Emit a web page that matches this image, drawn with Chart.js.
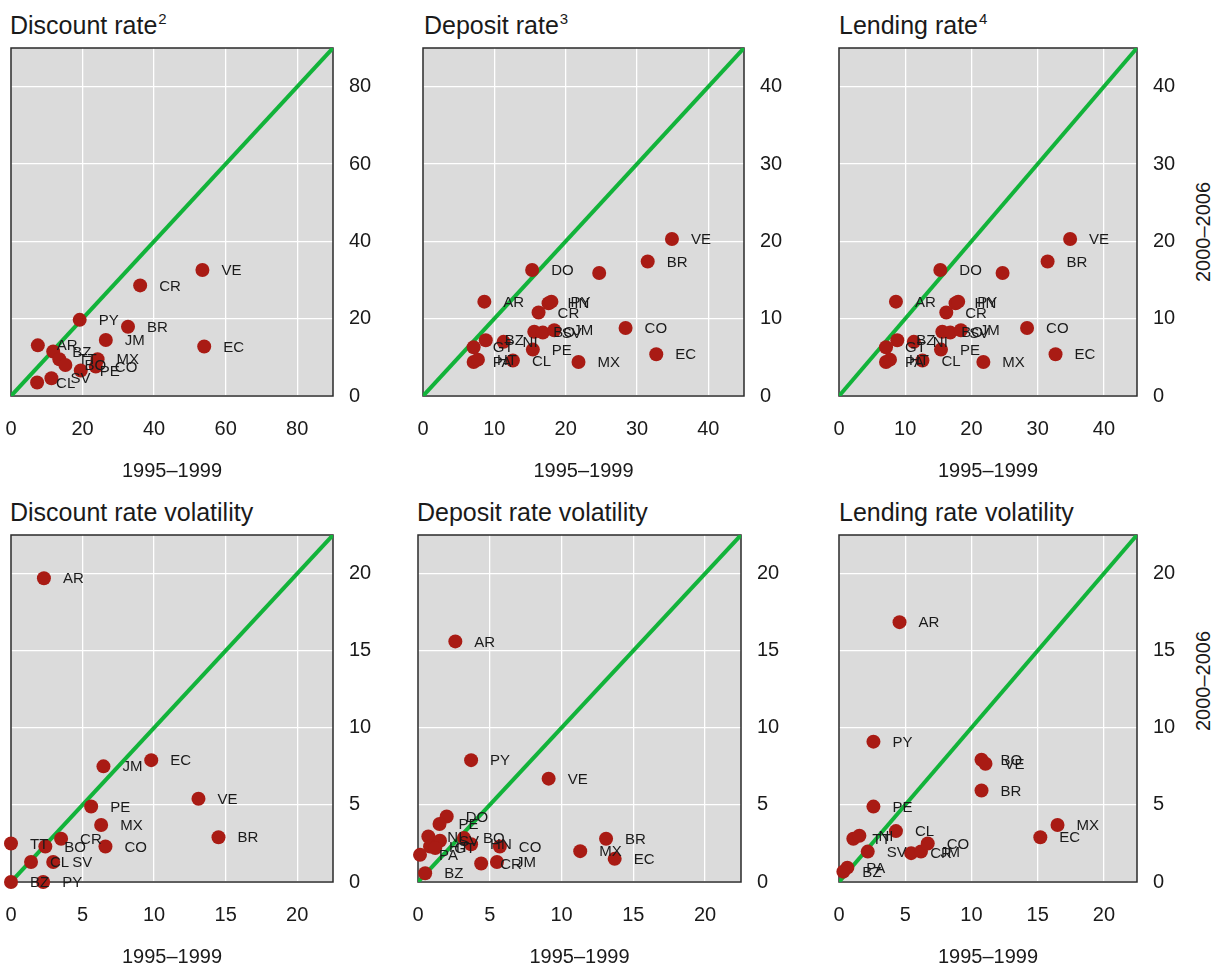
<!DOCTYPE html>
<html>
<head>
<meta charset="utf-8">
<script src="https://cdn.jsdelivr.net/npm/chart.js@4.4.1/dist/chart.umd.min.js"></script>
<style>
    body { margin: 0; background: #ffffff; width: 1215px; height: 970px; position: relative; overflow: hidden;
           font-family: "Liberation Sans", Arial, sans-serif; color: #1a1a1a; }
    canvas { position: absolute; }
    .ttl { position: absolute; font-size: 25px; line-height: 24px; white-space: nowrap; }
    .ttl span { font-size: 15px; position: relative; top: -10px; margin-left: 1px; }
    .ylab { position: absolute; font-size: 20px; line-height: 24px; white-space: nowrap;
            transform: translate(-50%, -50%) rotate(-90deg); }
</style>
</head>
<body>
<div class="ttl" style="left:10px;top:13px">Discount rate<span>2</span></div>
<div class="ttl" style="left:424px;top:13px">Deposit rate<span>3</span></div>
<div class="ttl" style="left:839px;top:13px">Lending rate<span>4</span></div>
<div class="ttl" style="left:10px;top:500px">Discount rate volatility</div>
<div class="ttl" style="left:417px;top:500px">Deposit rate volatility</div>
<div class="ttl" style="left:839px;top:500px">Lending rate volatility</div>
<div class="ylab" style="left:1203px;top:232px">2000–2006</div>
<div class="ylab" style="left:1203px;top:681px">2000–2006</div>

<canvas id="discountChart"></canvas>
<canvas id="depositChart"></canvas>
<canvas id="lendingChart"></canvas>
<canvas id="discountVolChart"></canvas>
<canvas id="depositVolChart"></canvas>
<canvas id="lendingVolChart"></canvas>

<script>
// levels: x = 1995-1999, y = 2000-2006
const discountNames = ['VE', 'CR', 'PY', 'BR', 'JM', 'EC', 'AR', 'BZ', 'TT', 'BO', 'MX', 'CO', 'PE', 'SV', 'CL'];
const discount9599 = [53.5, 36.1, 19.2, 32.7, 26.5, 54.0, 7.5, 11.8, 13.5, 15.2, 24.2, 23.7, 19.5, 11.3, 7.3];
const discount0006 = [32.6, 28.6, 19.7, 17.9, 14.5, 12.8, 13.1, 11.5, 9.5, 8.0, 9.5, 7.6, 6.6, 4.6, 3.5];

const depositNames = ['VE', 'BR', 'DO', '', 'AR', 'HN', 'PY', 'CR', 'CO', 'BO', 'SV', 'JM', 'BZ', 'NI', 'GT', 'PA', 'HT', 'PE', 'CL', 'MX', 'EC'];
const deposit9599 = [34.9, 31.5, 15.3, 24.7, 8.6, 17.6, 18.0, 16.2, 28.4, 15.6, 16.8, 18.4, 8.8, 11.3, 7.1, 7.1, 7.7, 15.4, 12.6, 21.8, 32.7];
const deposit0006 = [20.3, 17.4, 16.3, 15.9, 12.2, 12.0, 12.2, 10.8, 8.8, 8.3, 8.2, 8.5, 7.2, 7.0, 6.3, 4.4, 4.7, 6.0, 4.6, 4.4, 5.4];

const lendingNames = ['VE', 'BR', 'DO', '', 'AR', 'HN', 'PY', 'CR', 'CO', 'BO', 'SV', 'JM', 'BZ', 'NI', 'GT', 'PA', 'HT', 'PE', 'CL', 'MX', 'EC'];
const lending9599 = [34.9, 31.5, 15.3, 24.7, 8.6, 17.6, 18.0, 16.2, 28.4, 15.6, 16.8, 18.4, 8.8, 11.3, 7.1, 7.1, 7.7, 15.4, 12.6, 21.8, 32.7];
const lending0006 = [20.3, 17.4, 16.3, 15.9, 12.2, 12.0, 12.2, 10.8, 8.8, 8.3, 8.2, 8.5, 7.2, 7.0, 6.3, 4.4, 4.7, 6.0, 4.6, 4.4, 5.4];

// volatility
const discountVolNames = ['AR', 'JM', 'EC', 'VE', 'PE', 'MX', 'BR', 'TT', 'CR', 'BO', 'CO', 'CL', 'SV', 'BZ', 'PY'];
const discountVol9599 = [2.3, 6.46, 9.8, 13.1, 5.6, 6.3, 14.5, 0, 3.5, 2.4, 6.6, 1.4, 2.95, 0, 2.25];
const discountVol0006 = [19.7, 7.5, 7.9, 5.4, 4.9, 3.7, 2.9, 2.5, 2.8, 2.3, 2.3, 1.3, 1.3, 0, 0];

const depositVolNames = ['AR', 'PY', 'VE', 'DO', 'PE', 'NI', 'SV', 'HT', 'GT', 'BO', 'HN', 'CO', 'PA', 'BZ', 'CR', 'JM', 'BR', 'MX', 'EC'];
const depositVol9599 = [2.6, 3.7, 9.1, 2.0, 1.5, 0.72, 1.53, 0.84, 1.2, 3.2, 3.7, 5.7, 0.14, 0.5, 4.4, 5.5, 13.1, 11.3, 13.7];
const depositVol0006 = [15.6, 7.9, 6.7, 4.25, 3.76, 2.95, 2.67, 2.3, 2.2, 2.85, 2.45, 2.3, 1.76, 0.57, 1.2, 1.3, 2.8, 2.0, 1.5];

const lendingVolNames = ['AR', 'PY', 'BO', 'VE', 'BR', 'PE', 'MX', 'EC', 'CL', 'TT', 'NI', 'SV', 'CR', 'JM', 'CO', 'PA', 'BZ'];
const lendingVol9599 = [4.57, 2.6, 10.76, 11.06, 10.76, 2.6, 16.5, 15.2, 4.3, 1.08, 1.54, 2.17, 5.45, 6.19, 6.7, 0.63, 0.33];
const lendingVol0006 = [16.85, 9.1, 7.93, 7.67, 5.93, 4.89, 3.7, 2.9, 3.3, 2.8, 3.0, 1.97, 1.87, 1.98, 2.5, 0.93, 0.67];

Chart.defaults.font.family = '"Liberation Sans", Arial, sans-serif';
Chart.defaults.color = '#1a1a1a';

const panelFrame = {
    id: 'panelFrame',
    beforeDraw(chart) {
        const { ctx, chartArea: a } = chart;
        ctx.save();
        ctx.fillStyle = '#dbdbdb';
        ctx.fillRect(a.left, a.top, a.right - a.left, a.bottom - a.top);
        ctx.restore();
    },
    beforeDatasetsDraw(chart) {
        const { ctx, chartArea: a } = chart;
        ctx.save();
        ctx.strokeStyle = '#2a2a2a';
        ctx.lineWidth = 1.5;
        ctx.strokeRect(a.left, a.top, a.right - a.left, a.bottom - a.top);
        ctx.restore();
    }
};

const pointNames = {
    id: 'pointNames',
    afterDatasetsDraw(chart) {
        const ctx = chart.ctx;
        const ds = chart.data.datasets[1];
        const meta = chart.getDatasetMeta(1);
        ctx.save();
        ctx.font = '15px "Liberation Sans", Arial, sans-serif';
        ctx.fillStyle = '#1a1a1a';
        ctx.textAlign = 'left';
        ctx.textBaseline = 'middle';
        meta.data.forEach((pt, i) => {
            if (ds.names[i]) ctx.fillText(ds.names[i], pt.x + 19, pt.y + 1);
        });
        ctx.restore();
    }
};

function axis(max, step, pos) {
    return {
        type: 'linear',
        position: pos,
        min: 0,
        max: max,
        afterFit: pos === 'bottom' ? s => { s.height = 87; } : s => { s.width = 50; },
        ticks: {
            stepSize: step,
            includeBounds: false,
            padding: pos === 'bottom' ? 21 : 16,
            color: '#1a1a1a',
            font: { size: 20 },
            maxRotation: 0,
            autoSkip: false
        },
        grid: { color: '#ffffff', lineWidth: 1.3, drawTicks: false },
        border: { display: false },
        title: pos === 'bottom'
            ? { display: true, text: '1995–1999', color: '#1a1a1a', font: { size: 20 }, padding: 0 }
            : { display: false }
    };
}

function makePanel(id, left, top, w, h, max, step, xs, ys, names) {
    const canvas = document.getElementById(id);
    canvas.width = w + 100;
    canvas.height = h + 125;
    canvas.style.left = (left - 30) + 'px';
    canvas.style.top = (top - 30) + 'px';

    new Chart(canvas.getContext('2d'), {
        type: 'scatter',
        data: {
            datasets: [
                {
                    type: 'line',
                    data: [{ x: 0, y: 0 }, { x: max, y: max }],
                    borderColor: '#12b33a',
                    borderWidth: 4,
                    pointRadius: 0,
                    order: 2
                },
                {
                    type: 'scatter',
                    names: names,
                    data: xs.map((x, i) => ({ x: x, y: ys[i] })),
                    backgroundColor: '#a91b14',
                    borderWidth: 0,
                    pointRadius: 7,
                    clip: false,
                    order: 1
                }
            ]
        },
        options: {
            responsive: false,
            animation: false,
            events: [],
            layout: { padding: { left: 30, top: 30, right: 20, bottom: 8 } },
            plugins: { legend: { display: false }, tooltip: { enabled: false } },
            scales: {
                x: axis(max, step, 'bottom'),
                y: axis(max, step, 'right')
            }
        },
        plugins: [panelFrame, pointNames]
    });
}

makePanel('discountChart', 11, 48, 322, 348, 90, 20, discount9599, discount0006, discountNames);
makePanel('depositChart', 423, 48, 321, 348, 45, 10, deposit9599, deposit0006, depositNames);
makePanel('lendingChart', 839, 48, 298, 348, 45, 10, lending9599, lending0006, lendingNames);
makePanel('discountVolChart', 11, 535, 322, 347, 22.5, 5, discountVol9599, discountVol0006, discountVolNames);
makePanel('depositVolChart', 418, 535, 323, 347, 22.5, 5, depositVol9599, depositVol0006, depositVolNames);
makePanel('lendingVolChart', 839, 535, 298, 347, 22.5, 5, lendingVol9599, lendingVol0006, lendingVolNames);
</script>
</body>
</html>
